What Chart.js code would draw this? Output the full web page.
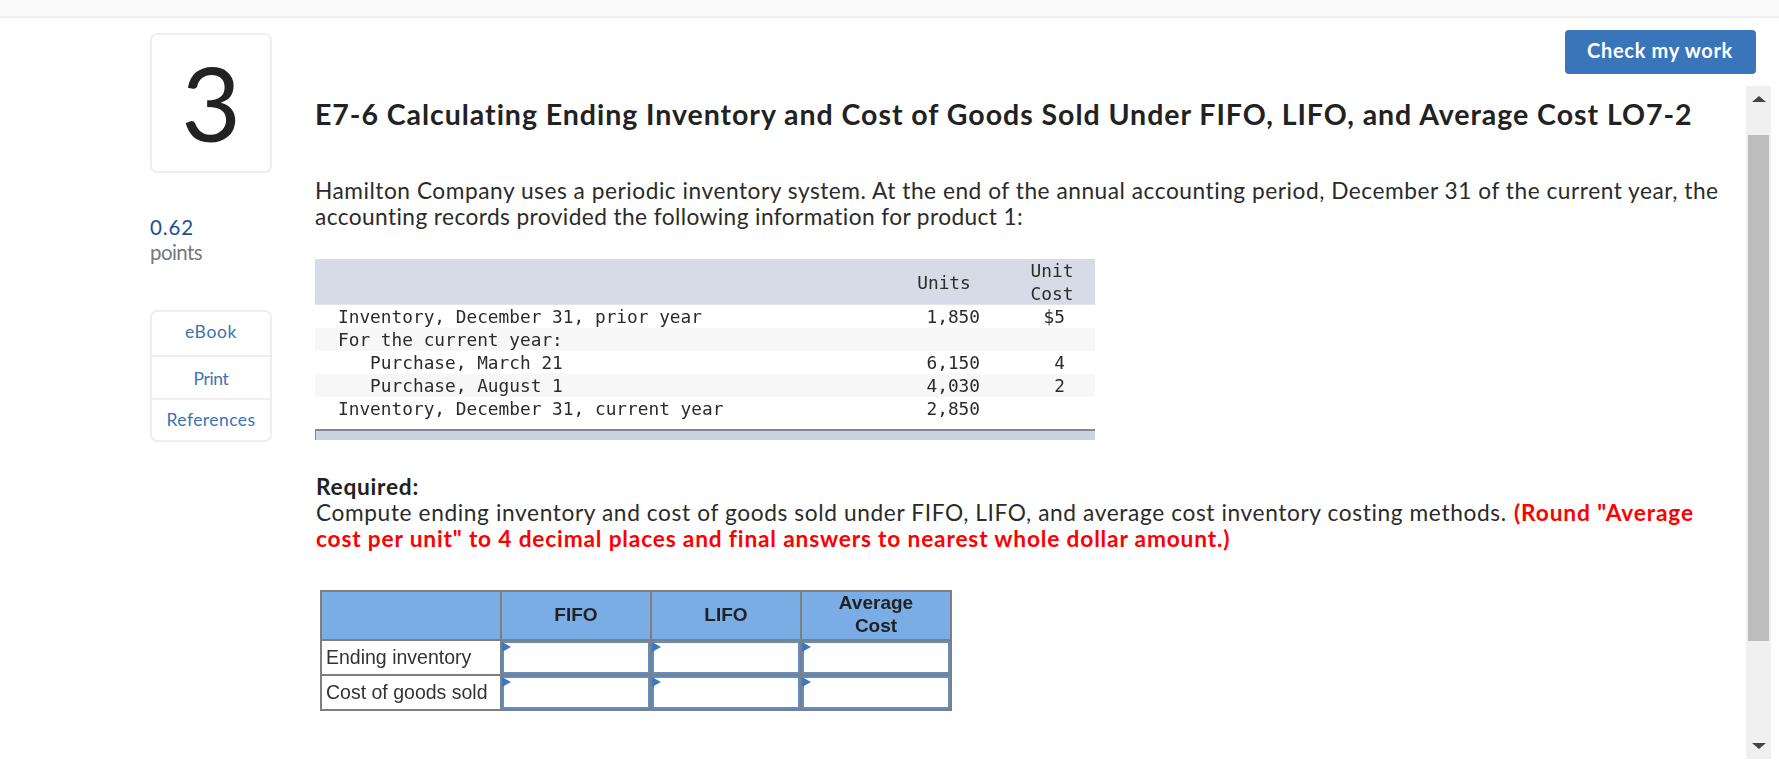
<!DOCTYPE html>
<html lang="en">
<head>
<meta charset="utf-8">
<title>E7-6 Calculating Ending Inventory and Cost of Goods Sold</title>
<script src="https://cdn.jsdelivr.net/npm/chart.js@4"></script>
<style>
html,body{margin:0;padding:0;background:#fff;width:1779px;height:765px;overflow:hidden}
body{position:relative;font-family:Lato,sans-serif;color:#2b2b2b}
.box{position:absolute;box-sizing:border-box}
.t{position:absolute;white-space:nowrap;line-height:1;transform:translateY(-50%)}
.c{transform:translate(-50%,-50%)}
canvas{position:absolute;display:block}
.tri{position:absolute;width:0;height:0;border-left:7px solid transparent;border-right:7px solid transparent}
</style>
</head>
<body>
<div class="box" style="left:0;top:0;width:1779px;height:18px;background:#fafafa;border-bottom:2px solid #eeeeee"></div>

<div class="box" style="left:150px;top:33px;width:122px;height:140px;border:2px solid #eeeeee;border-radius:7px"></div>
<span class="t c" style="left:211px;top:102px;font-size:103px;color:#222">3</span>

<span class="t" data-w="44" style="left:150px;top:227px;font-size:20.5px;color:#1d4f91">0.62</span>
<span class="t" data-w="52" style="left:150px;top:252px;font-size:20.5px;color:#777">points</span>

<div class="box" style="left:150px;top:310px;width:122px;height:132px;border:2px solid #eeeeee;border-radius:7px"></div>
<div class="box" style="left:151px;top:355px;width:120px;height:2px;background:#eeeeee"></div>
<div class="box" style="left:151px;top:398px;width:120px;height:2px;background:#eeeeee"></div>
<span class="t c" data-w="52" style="left:211px;top:332px;font-size:17.5px;color:#3b73b6">eBook</span>
<span class="t c" data-w="35" style="left:211px;top:379px;font-size:17.5px;color:#3b73b6">Print</span>
<span class="t c" data-w="89" style="left:211px;top:420px;font-size:17.5px;color:#3b73b6">References</span>

<div class="box" style="left:1565px;top:30px;width:191px;height:44px;background:#3a75b9;border-radius:4px"></div>
<span class="t" data-w="146" style="left:1587px;top:50px;font-size:20px;font-weight:700;color:#fff">Check my work</span>

<span class="t" data-w="1378" style="left:315px;top:114px;font-size:28.5px;font-weight:700;color:#222">E7-6 Calculating Ending Inventory and Cost of Goods Sold Under FIFO, LIFO, and Average Cost LO7-2</span>
<span class="t" data-w="1404" style="left:315px;top:191px;font-size:22.7px">Hamilton Company uses a periodic inventory system. At the end of the annual accounting period, December 31 of the current year, the</span>
<span class="t" data-w="709" style="left:315px;top:217px;font-size:22.7px">accounting records provided the following information for product 1:</span>

<span class="t" data-w="103" style="left:316px;top:487px;font-size:22.7px;font-weight:700;color:#222">Required:</span>
<span class="t" data-w="1191" style="left:316px;top:513px;font-size:22.7px">Compute ending inventory and cost of goods sold under FIFO, LIFO, and average cost inventory costing methods.</span>
<span class="t" data-w="180" style="left:1514px;top:513px;font-size:22.7px;font-weight:700;color:#f00">(Round "Average</span>
<span class="t" data-w="914" style="left:316px;top:539px;font-size:22.7px;font-weight:700;color:#f00">cost per unit" to 4 decimal places and final answers to nearest whole dollar amount.)</span>

<canvas id="inventoryTable" width="780" height="184" style="left:315px;top:259px;width:780px;height:184px"></canvas>
<canvas id="answerTable" width="632" height="121" style="left:320px;top:590px;width:632px;height:121px"></canvas>

<div class="box" style="left:1746px;top:86px;width:25px;height:673px;background:#f0f0f0"></div>
<div class="box" style="left:1748px;top:135px;width:21px;height:506px;background:#bdbdbd"></div>
<div class="tri" style="left:1752px;top:96px;border-bottom:6px solid #444"></div>
<div class="tri" style="left:1752px;top:743px;border-top:6px solid #444"></div>

<script>
// Inventory table
const rowLabels = ['', '', 'Inventory, December 31, prior year', 'For the current year:', '   Purchase, March 21', '   Purchase, August 1', 'Inventory, December 31, current year', ''];
const rowUnits = [null, null, 1850, null, 6150, 4030, 2850, null];
const rowUnitCosts = [null, null, 5, null, 4, 2, null, null];
const unitsHeader = 'Units';
const unitCostHeader = ['Unit', 'Cost'];
const rowBands = [1, 1, 1, 1, 1, 1, 1, 0];

// Answer table
const answerColumns = ['FIFO', 'LIFO', ['Average', 'Cost']];
const answerRows = ['Ending inventory', 'Cost of goods sold'];
const answerFifo = [null, null];
const answerLifo = [null, null];
const answerAverage = [null, null];

Chart.defaults.animation = false;
Chart.defaults.responsive = false;
Chart.defaults.plugins.legend.display = false;
Chart.defaults.plugins.tooltip.enabled = false;

// fit DOM text to the reference's measured widths
document.querySelectorAll('.t[data-w]').forEach(el => {
  const n = el.textContent.length;
  const w = el.getBoundingClientRect().width;
  el.style.letterSpacing = ((+el.dataset.w - w) / n).toFixed(3) + 'px';
});

const MONO = '"DejaVu Sans Mono", monospace';
const TEXT_DROP = 2;
const bandColors = ['#d6dbe7', '#d6dbe7', '#ffffff', '#f7f7f7', '#ffffff', '#f7f7f7', '#ffffff', '#ffffff'];

const inventoryCells = {
  id: 'inventoryCells',
  afterDatasetsDraw(chart) {
    const { ctx, scales: { y }, chartArea: a } = chart;
    const slot = y.getPixelForValue(1) - y.getPixelForValue(0);
    const rowTop = i => y.getPixelForValue(i) - slot / 2;
    ctx.save();
    // footer rule
    const fTop = rowTop(7) + 9;
    ctx.fillStyle = '#ccd3e0';
    ctx.fillRect(a.left, fTop, a.width, 11);
    ctx.fillStyle = '#84878f';
    ctx.fillRect(a.left, fTop, a.width, 2);
    ctx.fillRect(a.left, fTop, 1, 11);
    // column text
    ctx.font = '17.8px ' + MONO;
    ctx.fillStyle = '#2b2b2b';
    ctx.textBaseline = 'middle';
    ctx.textAlign = 'center';
    const xUnits = a.left + 629, xCost = a.left + 737;
    ctx.fillText(unitsHeader, xUnits, rowTop(1) + TEXT_DROP);
    unitCostHeader.forEach((s, i) => ctx.fillText(s, xCost, y.getPixelForValue(i) + TEXT_DROP));
    ctx.textAlign = 'right';
    rowUnits.forEach((v, i) => {
      if (v !== null) ctx.fillText(v.toLocaleString('en-US'), a.left + 665, y.getPixelForValue(i) + TEXT_DROP);
    });
    rowUnitCosts.forEach((v, i) => {
      if (v !== null) ctx.fillText((i === 2 ? '$' : '') + v, a.left + 750, y.getPixelForValue(i) + TEXT_DROP);
    });
    ctx.restore();
  }
};

new Chart(document.getElementById('inventoryTable'), {
  type: 'bar',
  data: {
    labels: rowLabels,
    datasets: [{ data: rowBands, backgroundColor: bandColors, barPercentage: 1, categoryPercentage: 1, borderWidth: 0 }]
  },
  options: {
    indexAxis: 'y',
    layout: { padding: 0 },
    scales: {
      x: { display: false, min: 0, max: 1 },
      y: {
        position: 'left',
        border: { display: false },
        grid: { display: false, drawTicks: false },
        afterFit(s) { s.width = 0; s.paddingTop = 0; s.paddingBottom = 0; },
        ticks: { mirror: true, z: 1, padding: 23, labelOffset: TEXT_DROP, autoSkip: false, color: '#2b2b2b', font: { family: MONO, size: 17.8 } }
      }
    }
  },
  plugins: [inventoryCells]
});

const answerFrame = {
  id: 'answerFrame',
  beforeDraw(chart) {
    const { ctx, scales: { x, y }, chartArea: a, width, height } = chart;
    const colW = x.getPixelForValue(1) - x.getPixelForValue(0);
    const rowH = y.getPixelForValue(1) - y.getPixelForValue(0);
    const GRAY = '#7f7f7f';
    ctx.save();
    ctx.fillStyle = '#7aade5';
    ctx.fillRect(0, 0, width, a.top);
    ctx.fillStyle = GRAY;
    // horizontal rules
    ctx.fillRect(0, 0, width, 2);
    [0, 1, 2].forEach(i => ctx.fillRect(0, a.top + i * rowH - 1, width, 2));
    ctx.fillRect(0, height - 2, width, 2);
    // vertical rules
    ctx.fillRect(0, 0, 2, height);
    [0, 1, 2].forEach(i => ctx.fillRect(a.left + i * colW - 1, 0, 2, height));
    ctx.fillRect(width - 2, 0, 2, height);
    ctx.restore();
  },
  afterDatasetsDraw(chart) {
    const { ctx, scales: { x, y } } = chart;
    const colW = x.getPixelForValue(1) - x.getPixelForValue(0);
    const rowH = y.getPixelForValue(1) - y.getPixelForValue(0);
    ctx.save();
    [answerFifo, answerLifo, answerAverage].forEach((col, c) => {
      col.forEach((v, r) => {
        const l = x.getPixelForValue(c) - colW / 2 + 1;
        const t = y.getPixelForValue(r) - rowH / 2 + 1;
        const w = colW - 2, h = rowH - 2;
        ctx.fillStyle = '#fff';
        ctx.fillRect(l, t, w, h);
        ctx.strokeStyle = '#5f8dc6';
        ctx.lineWidth = 2;
        ctx.strokeRect(l + 1, t + 1, w - 2, h - 2);
        ctx.fillStyle = '#3a78bf';
        ctx.beginPath();
        ctx.moveTo(l, t + 1);
        ctx.lineTo(l + 9, t + 6);
        ctx.lineTo(l, t + 11);
        ctx.closePath();
        ctx.fill();
      });
    });
    ctx.restore();
  }
};

new Chart(document.getElementById('answerTable'), {
  type: 'bar',
  data: { labels: answerColumns, datasets: [] },
  options: {
    layout: { padding: { left: 6, right: 1, bottom: 1 } },
    scales: {
      x: {
        type: 'category',
        position: 'top',
        labels: answerColumns,
        offset: true,
        border: { display: false },
        grid: { display: false, drawTicks: false },
        afterFit(s) { s.height = 50; },
        ticks: {
          crossAlign: 'center', maxRotation: 0, autoSkip: false, padding: 13, color: '#222',
          font: { family: '"Liberation Sans"', size: 19, weight: 'bold', lineHeight: 1.2 }
        }
      },
      y: {
        type: 'category',
        labels: answerRows,
        offset: true,
        border: { display: false },
        grid: { display: false, drawTicks: false },
        afterFit(s) { s.width = 175; s.paddingTop = 0; s.paddingBottom = 0; },
        ticks: {
          crossAlign: 'far', autoSkip: false, labelOffset: 1, color: '#333',
          font: { family: '"Liberation Sans"', size: 19.5 }
        }
      }
    }
  },
  plugins: [answerFrame]
});
</script>
</body>
</html>
